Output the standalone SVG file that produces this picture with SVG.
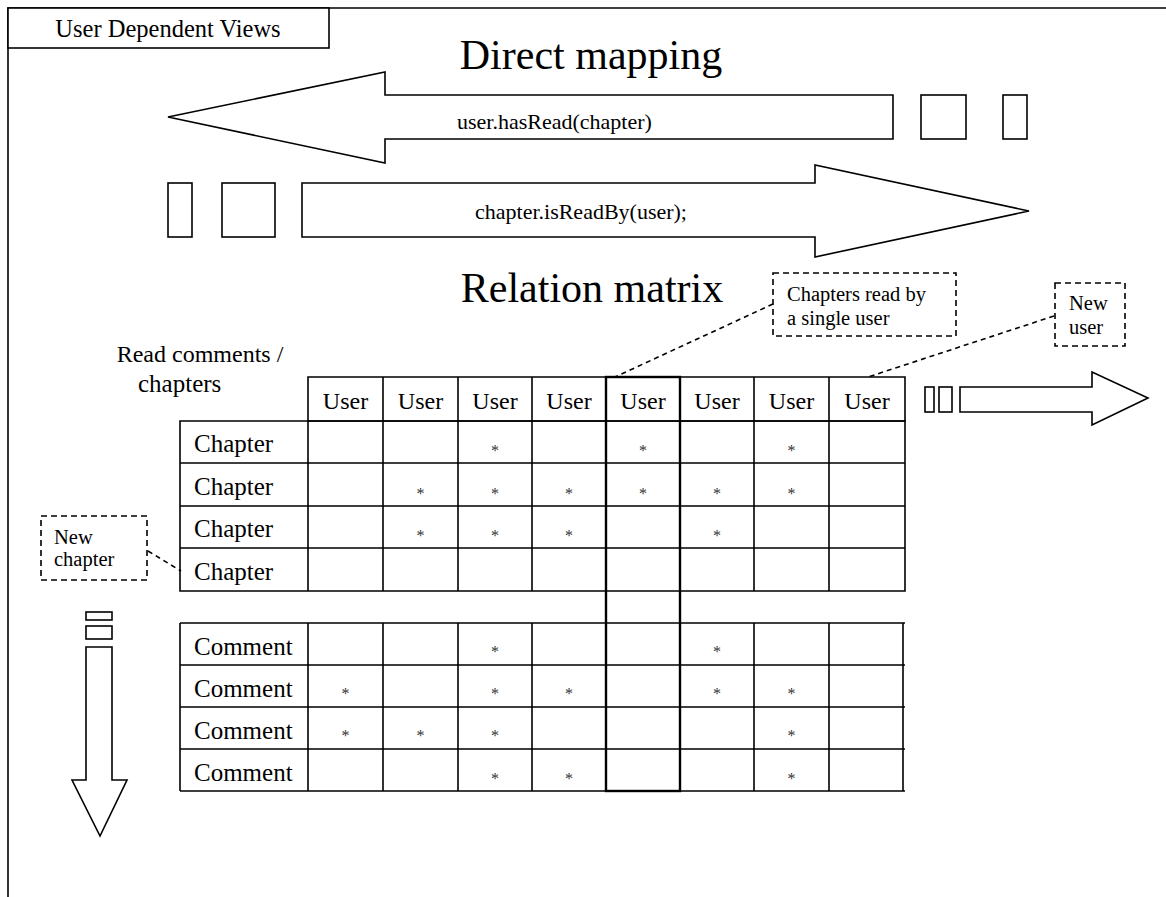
<svg xmlns="http://www.w3.org/2000/svg" width="1166" height="897" viewBox="0 0 1166 897">
  <style>
    .ln { fill: #fff; stroke: #000; stroke-width: 1.6; }
    .open { fill: none; stroke: #000; stroke-width: 1.6; }
    .thick { fill: none; stroke: #000; stroke-width: 2.4; }
    .dash { fill: #fff; stroke: #000; stroke-width: 1.6; stroke-dasharray: 6 4; }
    .lead { fill: none; stroke: #000; stroke-width: 1.6; stroke-dasharray: 5 4; }
    text { font-family: "Liberation Serif", "Times New Roman", serif; fill: #000; }
    .big { font-size: 42px; }
    .title { font-size: 24.5px; }
    .lab { font-size: 22px; }
    .head { font-size: 24px; }
    .cell { font-size: 25px; }
    .cap { font-size: 24px; }
    .cap2 { font-size: 25px; }
    .note { font-size: 20.5px; }
    .star { font-size: 16px; fill: #333; text-anchor: middle; }
    .mid { text-anchor: middle; }
  </style>

  <!-- outer frame and title tab -->
  <g id="frame">
    <path class="open" d="M8,897 V8 H1166"/>
    <rect class="ln" x="8" y="8" width="321" height="40"/>
    <text class="title mid" x="168" y="37">User Dependent Views</text>
  </g>

  <!-- section headings -->
  <g id="heading-direct">
    <text class="big mid" x="591" y="69">Direct mapping</text>
  </g>
  <g id="heading-matrix">
    <text class="big mid" x="592" y="302">Relation matrix</text>
  </g>

  <!-- user -> chapter mapping -->
  <g id="arrow-hasRead">
    <polygon class="ln" points="168,117 385,72 385,95 893,95 893,139 385,139 385,163"/>
    <text class="lab" x="457" y="129">user.hasRead(chapter)</text>
  </g>
  <g id="blocks-hasRead">
    <rect class="ln" x="921" y="95" width="45" height="44"/>
    <rect class="ln" x="1003" y="95" width="24" height="44"/>
  </g>

  <!-- chapter -> user mapping -->
  <g id="arrow-isReadBy">
    <polygon class="ln" points="302,183 815,183 815,165 1029,211 815,257 815,237 302,237"/>
    <text class="lab" x="475" y="219">chapter.isReadBy(user);</text>
  </g>
  <g id="blocks-isReadBy">
    <rect class="ln" x="168" y="183" width="24" height="54"/>
    <rect class="ln" x="222" y="183" width="53" height="54"/>
  </g>

  <!-- matrix caption -->
  <g id="matrix-caption">
    <text class="cap mid" x="200" y="362">Read comments /</text>
    <text class="cap2" x="138" y="392">chapters</text>
  </g>

  <!-- user column headers -->
  <g id="matrix-header">
    <path class="open" d="M308,377 H905 V421 H308 Z M383,377 V421 M458,377 V421 M532,377 V421 M606,377 V421 M680,377 V421 M754,377 V421 M829,377 V421"/>
    <text class="head mid" x="345.5" y="409">User</text>
    <text class="head mid" x="420.5" y="409">User</text>
    <text class="head mid" x="495" y="409">User</text>
    <text class="head mid" x="569" y="409">User</text>
    <text class="head mid" x="643" y="409">User</text>
    <text class="head mid" x="717" y="409">User</text>
    <text class="head mid" x="791.5" y="409">User</text>
    <text class="head mid" x="867" y="409">User</text>
  </g>

  <!-- chapter rows -->
  <g id="matrix-chapters">
    <path class="open" d="M180,421 H905 V591 H180 Z M180,463 H905 M180,506 H905 M180,548 H905 M308,421 V591 M383,421 V591 M458,421 V591 M532,421 V591 M606,421 V591 M680,421 V591 M754,421 V591 M829,421 V591"/>
    <text class="cell" x="194" y="452">Chapter</text>
    <text class="cell" x="194" y="495">Chapter</text>
    <text class="cell" x="194" y="537">Chapter</text>
    <text class="cell" x="194" y="580">Chapter</text>
    <text class="star" x="495" y="456">*</text>
    <text class="star" x="643" y="456">*</text>
    <text class="star" x="791.5" y="456">*</text>
    <text class="star" x="420.5" y="499">*</text>
    <text class="star" x="495" y="499">*</text>
    <text class="star" x="569" y="499">*</text>
    <text class="star" x="643" y="499">*</text>
    <text class="star" x="717" y="499">*</text>
    <text class="star" x="791.5" y="499">*</text>
    <text class="star" x="420.5" y="541">*</text>
    <text class="star" x="495" y="541">*</text>
    <text class="star" x="569" y="541">*</text>
    <text class="star" x="717" y="541">*</text>
  </g>

  <!-- comment rows -->
  <g id="matrix-comments">
    <path class="open" d="M180,623 H905 M180,665 H905 M180,707 H905 M180,749 H905 M180,791 H905 M180,623 V791 M308,623 V791 M383,623 V791 M458,623 V791 M532,623 V791 M606,623 V791 M680,623 V791 M754,623 V791 M829,623 V791 M903,623 V791"/>
    <text class="cell" x="194" y="655">Comment</text>
    <text class="cell" x="194" y="697">Comment</text>
    <text class="cell" x="194" y="739">Comment</text>
    <text class="cell" x="194" y="781">Comment</text>
    <text class="star" x="495" y="657">*</text>
    <text class="star" x="717" y="657">*</text>
    <text class="star" x="345.5" y="699">*</text>
    <text class="star" x="495" y="699">*</text>
    <text class="star" x="569" y="699">*</text>
    <text class="star" x="717" y="699">*</text>
    <text class="star" x="791.5" y="699">*</text>
    <text class="star" x="345.5" y="741">*</text>
    <text class="star" x="420.5" y="741">*</text>
    <text class="star" x="495" y="741">*</text>
    <text class="star" x="791.5" y="741">*</text>
    <text class="star" x="495" y="784">*</text>
    <text class="star" x="569" y="784">*</text>
    <text class="star" x="791.5" y="784">*</text>
  </g>

  <!-- single-user column running through both tables -->
  <g id="single-user-column">
    <rect class="thick" x="606" y="377" width="74" height="414"/>
  </g>

  <!-- growth arrows: new users to the right, new chapters downward -->
  <g id="arrow-new-users">
    <rect class="ln" x="925" y="387" width="9" height="25"/>
    <rect class="ln" x="939" y="387" width="13" height="25"/>
    <polygon class="ln" points="960,387 1092,387 1092,372 1148,398 1092,425 1092,412 960,412"/>
  </g>
  <g id="arrow-new-chapters">
    <rect class="ln" x="86" y="612" width="26" height="8"/>
    <rect class="ln" x="86" y="626" width="26" height="13"/>
    <polygon class="ln" points="86,647 112,647 112,780 127,780 100,836 72,780 86,780"/>
  </g>

  <!-- callouts -->
  <g id="note-single-user">
    <rect class="dash" x="773" y="273" width="183" height="63"/>
    <text class="note" x="787" y="301">Chapters read by</text>
    <text class="note" x="787" y="325">a single user</text>
  </g>
  <g id="note-new-user">
    <rect class="dash" x="1055" y="283" width="70" height="63"/>
    <text class="note" x="1069" y="310">New</text>
    <text class="note" x="1069" y="334">user</text>
  </g>
  <g id="note-new-chapter">
    <rect class="dash" x="41" y="516" width="106" height="64"/>
    <text class="note" x="54" y="544">New</text>
    <text class="note" x="54" y="566">chapter</text>
  </g>

  <!-- leader lines from callouts -->
  <g id="connectors">
    <path class="lead" d="M773,304 L615,377"/>
    <path class="lead" d="M1054,316 L868,377"/>
    <path class="lead" d="M148,551 L181,571"/>
  </g>
</svg>
